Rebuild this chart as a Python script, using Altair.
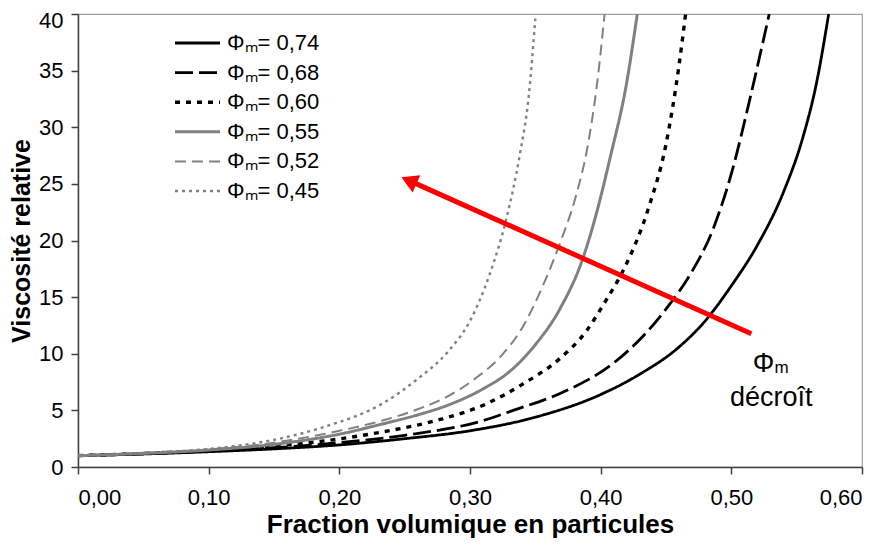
import altair as alt
import pandas as pd

# ---- data ----
series = ["Φₘ= 0,74", "Φₘ= 0,68", "Φₘ= 0,60", "Φₘ= 0,55", "Φₘ= 0,52", "Φₘ= 0,45"]

x_074 = [0, 0.05, 0.10, 0.15, 0.20, 0.25, 0.30, 0.35, 0.40, 0.43, 0.46, 0.48, 0.50, 0.52, 0.54, 0.555, 0.565, 0.5745]
y_074 = [1.0, 1.15, 1.35, 1.6, 1.95, 2.5, 3.2, 4.4, 6.4, 8.2, 10.6, 12.9, 16.0, 19.6, 24.3, 29.2, 33.8, 40]

x_068 = [0, 0.05, 0.10, 0.15, 0.20, 0.25, 0.31, 0.333, 0.371, 0.409, 0.432, 0.453, 0.468, 0.486, 0.501, 0.514, 0.529]
y_068 = [1.0, 1.17, 1.4, 1.7, 2.15, 2.8, 4.1, 5.0, 6.6, 9.1, 11.5, 14.4, 16.9, 21.0, 26.3, 32.4, 40]

x_060 = [0, 0.05, 0.10, 0.15, 0.195, 0.233, 0.274, 0.313, 0.34, 0.369, 0.389, 0.404, 0.417, 0.437, 0.45, 0.46, 0.465]
y_060 = [1.0, 1.2, 1.45, 1.85, 2.4, 3.1, 4.1, 5.6, 7.3, 9.6, 12.0, 14.7, 17.3, 23.0, 28.5, 35.5, 40]

x_055 = [0, 0.05, 0.10, 0.15, 0.20, 0.233, 0.26, 0.284, 0.31, 0.33, 0.35, 0.369, 0.386, 0.397, 0.407, 0.42, 0.428]
y_055 = [1.0, 1.2, 1.5, 2.0, 2.9, 3.8, 4.6, 5.5, 6.9, 8.4, 10.8, 14.0, 18.3, 22.5, 27.2, 34.0, 40]

x_052 = [0, 0.05, 0.10, 0.15, 0.20, 0.233, 0.26, 0.284, 0.305, 0.323, 0.34, 0.355, 0.369, 0.381, 0.39, 0.397, 0.403]
y_052 = [1.0, 1.22, 1.55, 2.15, 3.2, 4.1, 5.1, 6.3, 7.9, 9.7, 12.3, 15.8, 19.8, 23.9, 28.3, 33.6, 40]

x_045 = [0, 0.05, 0.10, 0.15, 0.19, 0.233, 0.259, 0.284, 0.30, 0.315, 0.328, 0.338, 0.345, 0.35]
y_045 = [1.0, 1.25, 1.6, 2.4, 3.6, 5.6, 7.7, 10.3, 12.9, 17.0, 22.0, 27.5, 32.8, 39.6]

x_ticks = [0, 0.1, 0.2, 0.3, 0.4, 0.5, 0.6]
y_ticks = [0, 5, 10, 15, 20, 25, 30, 35, 40]

arrow_x = [0.5153, 0.2552]
arrow_y = [11.77, 25.2]

# ---- styles ----
colors = ["#000000", "#000000", "#000000", "#808080", "#808080", "#808080"]
dashes = [[1, 0], [18, 6], [5, 6], [1, 0], [11, 6], [3, 4]]
widths = [2.8, 2.8, 3.4, 3.0, 2.0, 2.4]

rows = []
for name, xs, ys in zip(series,
                        [x_074, x_068, x_060, x_055, x_052, x_045],
                        [y_074, y_068, y_060, y_055, y_052, y_045]):
    for i, (a, b) in enumerate(zip(xs, ys)):
        rows.append({"serie": name, "phi": a, "eta": b, "i": i})
df = pd.DataFrame(rows)

FONT = "Liberation Sans"
x_scale = alt.Scale(domain=[0, 0.6], nice=False, zero=False)
y_scale = alt.Scale(domain=[0, 40], nice=False)

xenc = alt.X("phi:Q", scale=x_scale, title="Fraction volumique en particules",
             axis=alt.Axis(values=x_ticks, labelExpr="replace(format(datum.value, '.2f'), '.', ',')",
                           labelPadding=13, titleY=65, titleBaseline="alphabetic",
                           titleFontSize=26))
yenc = alt.Y("eta:Q", scale=y_scale, title="Viscosité relative",
             axis=alt.Axis(values=y_ticks, labelPadding=8, titlePadding=4, titleFontSize=25,
                           labelOffset=alt.ConditionalAxisNumber(
                               condition={"test": "datum.value == 40", "value": 6}, value=0)))

legend = alt.Legend(orient="none", legendX=95, legendY=21, title=None,
                    symbolType="stroke", symbolSize=2025, labelOffset=5,
                    clipHeight=16, rowPadding=7.6, padding=0,
                    labelFont=FONT, labelFontSize=22, labelColor="#000000",
                    symbolStrokeColor="#000000")

lines = alt.Chart(df).mark_line(interpolate="monotone", clip=True).encode(
    x=xenc,
    y=yenc,
    order="i:Q",
    color=alt.Color("serie:N", scale=alt.Scale(type="ordinal", domain=series, range=colors), legend=legend),
    strokeDash=alt.StrokeDash("serie:N", scale=alt.Scale(type="ordinal", domain=series, range=dashes), legend=legend),
    strokeWidth=alt.StrokeWidth("serie:N", scale=alt.Scale(type="ordinal", domain=series, range=widths), legend=legend),
)

arrow_df = pd.DataFrame({"phi": arrow_x, "eta": arrow_y, "i": [0, 1]})
shaft = alt.Chart(arrow_df).mark_line(color="#FF0000", strokeWidth=5, strokeCap="butt").encode(
    x=alt.X("phi:Q", scale=x_scale), y=alt.Y("eta:Q", scale=y_scale), order="i:Q")
head = alt.Chart(arrow_df.iloc[[1]]).mark_point(
    shape="triangle", filled=True, color="#FF0000", size=361, angle=294, opacity=1).encode(
    x=alt.X("phi:Q", scale=x_scale), y=alt.Y("eta:Q", scale=y_scale))

ann_df = pd.DataFrame({"phi": [0.5247, 0.5385, 0.5306], "eta": [8.36, 8.27, 5.36],
                       "t": ["Φ", "m", "décroît"], "s": [27, 17, 27]})
ann = alt.Chart(ann_df).mark_text(font=FONT, baseline="alphabetic", align="center", color="#000000").encode(
    x=alt.X("phi:Q", scale=x_scale), y=alt.Y("eta:Q", scale=y_scale),
    text="t:N", size=alt.Size("s:Q", scale=None, legend=None))

chart = alt.layer(lines, shaft, head, ann).properties(
    width=784, height=453,
    autosize=alt.AutoSizeParams(type="none"),
    padding={"left": 70, "top": 6, "right": 17, "bottom": 72},
).configure_view(stroke="#A0A0A0", strokeWidth=1.2).configure_axis(
    grid=False, labelFont=FONT, labelFontSize=22, labelColor="#000000",
    titleFont=FONT, titleFontWeight="bold", titleColor="#000000",
    domainColor="#404040", domainWidth=1.5, tickColor="#404040", tickWidth=1.5, tickSize=7,
).configure_legend(labelLimit=300)

chart.save("out.html", embed_options={"renderer": "svg", "actions": False})
